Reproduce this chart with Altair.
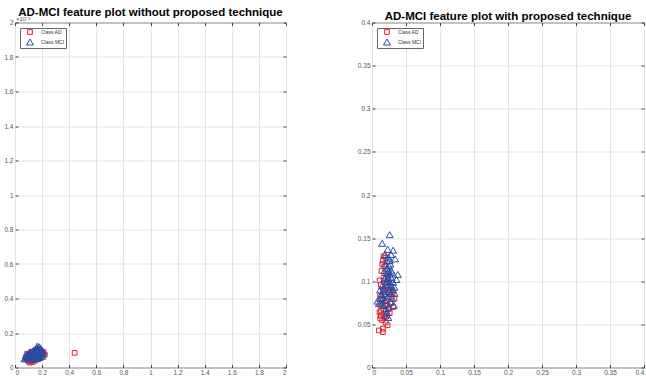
import altair as alt
import pandas as pd

classes = ["Class AD", "Class MCI"]
colors = ["#e8202a", "#2a4da6"]
shapes = ["square", "triangle-up"]

# Left panel (values x 1e-3)
left_ad_x = [0.44, 0.22, 0.11, 0.10, 0.13, 0.15, 0.09, 0.12, 0.17, 0.19, 0.21, 0.14, 0.10, 0.13, 0.16,
             0.18, 0.12, 0.15, 0.20, 0.11, 0.08, 0.17, 0.14, 0.19, 0.16, 0.12, 0.18, 0.09, 0.13, 0.21]
left_ad_y = [0.085, 0.075, 0.028, 0.035, 0.032, 0.040, 0.045, 0.050, 0.048, 0.060, 0.070, 0.062, 0.070, 0.078, 0.085,
             0.090, 0.092, 0.098, 0.080, 0.055, 0.060, 0.072, 0.045, 0.095, 0.055, 0.038, 0.068, 0.080, 0.088, 0.090]
left_mci_x = [0.07, 0.08, 0.09, 0.10, 0.11, 0.12, 0.13, 0.14, 0.15, 0.16, 0.17, 0.18, 0.17, 0.18, 0.16,
              0.15, 0.14, 0.13, 0.12, 0.11, 0.10, 0.09, 0.08, 0.19, 0.20, 0.21, 0.20, 0.19, 0.18, 0.17,
              0.16, 0.15, 0.14, 0.13, 0.12, 0.11, 0.10, 0.12, 0.14, 0.16, 0.18, 0.20, 0.19, 0.17, 0.15,
              0.13, 0.11, 0.16, 0.14, 0.18, 0.165, 0.175, 0.155, 0.145, 0.135, 0.125, 0.115, 0.105,
              0.095, 0.085, 0.185, 0.195, 0.150, 0.160, 0.170]
left_mci_y = [0.050, 0.055, 0.060, 0.065, 0.070, 0.075, 0.080, 0.085, 0.090, 0.095, 0.100, 0.105, 0.115, 0.120, 0.110,
              0.105, 0.100, 0.095, 0.090, 0.085, 0.080, 0.075, 0.070, 0.110, 0.100, 0.090, 0.080, 0.075, 0.070, 0.065,
              0.060, 0.070, 0.075, 0.065, 0.060, 0.055, 0.052, 0.048, 0.050, 0.052, 0.058, 0.065, 0.088, 0.082, 0.078,
              0.072, 0.068, 0.100, 0.092, 0.095, 0.125, 0.112, 0.108, 0.096, 0.088, 0.082, 0.078, 0.072,
              0.066, 0.062, 0.098, 0.085, 0.062, 0.075, 0.090]

# Right panel
right_ad_x = [0.010, 0.016, 0.016, 0.023, 0.012, 0.015, 0.018, 0.022, 0.013, 0.020, 0.026, 0.011, 0.017, 0.024, 0.031,
              0.014, 0.019, 0.027, 0.033, 0.015, 0.021, 0.029, 0.012, 0.018, 0.025, 0.016, 0.022, 0.028, 0.013, 0.019,
              0.011, 0.024, 0.017, 0.021, 0.014, 0.018, 0.015, 0.016, 0.017, 0.020, 0.026, 0.030, 0.020, 0.013, 0.023]
right_ad_y = [0.043, 0.041, 0.045, 0.049, 0.057, 0.055, 0.058, 0.060, 0.066, 0.062, 0.063, 0.064, 0.067, 0.068, 0.070,
              0.071, 0.073, 0.074, 0.080, 0.078, 0.077, 0.082, 0.083, 0.085, 0.087, 0.090, 0.092, 0.094, 0.096, 0.098,
              0.101, 0.100, 0.104, 0.108, 0.112, 0.117, 0.120, 0.124, 0.129, 0.127, 0.090, 0.085, 0.052, 0.060, 0.072]
right_mci_x = [0.026, 0.015, 0.023, 0.031, 0.028, 0.019, 0.034, 0.026, 0.038, 0.036, 0.008, 0.010, 0.012, 0.014, 0.016,
               0.018, 0.020, 0.022, 0.024, 0.026, 0.028, 0.022, 0.025, 0.020, 0.023, 0.027, 0.029, 0.031, 0.033, 0.030,
               0.028, 0.032, 0.025, 0.021, 0.017, 0.013, 0.019, 0.023, 0.027, 0.015, 0.018, 0.021, 0.024, 0.026, 0.021,
               0.019, 0.016, 0.029, 0.031, 0.020, 0.024, 0.022, 0.025, 0.018, 0.027, 0.030, 0.022, 0.024, 0.012, 0.033]
right_mci_y = [0.154, 0.144, 0.137, 0.136, 0.131, 0.131, 0.126, 0.124, 0.108, 0.102, 0.077, 0.074, 0.080, 0.085, 0.088,
               0.092, 0.096, 0.100, 0.104, 0.108, 0.112, 0.115, 0.118, 0.120, 0.110, 0.098, 0.094, 0.090, 0.086, 0.080,
               0.076, 0.072, 0.070, 0.068, 0.072, 0.075, 0.078, 0.082, 0.086, 0.095, 0.103, 0.106, 0.096, 0.090, 0.088,
               0.084, 0.081, 0.104, 0.099, 0.060, 0.058, 0.064, 0.112, 0.112, 0.120, 0.110, 0.124, 0.128, 0.090, 0.093]

left_ticks = [0, 0.2, 0.4, 0.6, 0.8, 1, 1.2, 1.4, 1.6, 1.8, 2]
right_ticks = [0, 0.05, 0.1, 0.15, 0.2, 0.25, 0.3, 0.35, 0.4]

FONT = "Liberation Sans"
AX = "#444444"


def make_df(ax, ay, mx, my):
    return pd.DataFrame({
        "x": ax + mx,
        "y": ay + my,
        "cls": [classes[0]] * len(ax) + [classes[1]] * len(mx),
        "ord": list(range(len(ax) + len(mx))),
    })


def panel(df, dom, ticks, title, w, h, expo=None):
    common = dict(values=ticks, format="~g", title=None, labelFont=FONT, labelFontSize=6.5,
                  labelColor="#555555", tickColor=AX, tickSize=3, offset=-3, domain=False,
                  labelPadding=2, gridColor="#e3e3e3", gridWidth=1, minExtent=0)
    xs = alt.Scale(domain=dom, nice=False, zero=False)
    ys = alt.Scale(domain=dom, nice=False, zero=False)
    pts = alt.Chart(df).mark_point(filled=False, strokeWidth=1, opacity=1).encode(
        x=alt.X("x:Q", scale=xs, axis=alt.Axis(orient="bottom", grid=True, **common)),
        y=alt.Y("y:Q", scale=ys, axis=alt.Axis(orient="left", grid=True, **common)),
        color=alt.Color("cls:N", scale=alt.Scale(domain=classes, range=colors),
                        legend=alt.Legend(title=None, orient="none", legendX=5, legendY=5.5,
                                          strokeColor="#666666", fillColor="white", padding=1,
                                          labelFont=FONT, labelFontSize=5, labelColor="#333333",
                                          symbolStrokeWidth=1, rowPadding=0,
                                          symbolOffset=5, labelOffset=7, labelLimit=60)),
        shape=alt.Shape("cls:N", scale=alt.Scale(domain=classes, range=shapes), legend=None),
        size=alt.Size("cls:N", scale=alt.Scale(domain=classes, range=[22, 48]), legend=None),
        order="ord:Q",
    )
    mirror_common = dict(values=ticks, title=None, labels=False, tickColor=AX, tickSize=3,
                         offset=-3, domain=False, grid=False, minExtent=0, maxExtent=0)
    mirror = alt.Chart(df).mark_point(opacity=0).encode(
        x=alt.X("x:Q", scale=xs, axis=alt.Axis(orient="top", **mirror_common)),
        y=alt.Y("y:Q", scale=ys, axis=alt.Axis(orient="right", **mirror_common)),
    )
    layers = [pts, mirror]
    if expo:
        t = alt.Chart(pd.DataFrame({"t": [expo]})).mark_text(
            font=FONT, fontSize=6, align="left", baseline="bottom", color="#555555"
        ).encode(x=alt.value(1), y=alt.value(-1), text="t:N")
        layers.append(t)
    return alt.layer(*layers).resolve_axis(x="independent", y="independent").properties(
        width=w, height=h,
        title=alt.TitleParams(title, font=FONT, fontSize=11.5, fontWeight="bold", color="black",
                              offset=-3, anchor="middle", frame="group"),
    )


left = panel(make_df(left_ad_x, left_ad_y, left_mci_x, left_mci_y), [0, 2], left_ticks,
             "AD-MCI feature plot without proposed technique", 271, 345, expo="×10⁻³")
right = panel(make_df(right_ad_x, right_ad_y, right_mci_x, right_mci_y), [0, 0.4], right_ticks,
              "AD-MCI feature plot with proposed technique", 272, 345)

chart = alt.hconcat(left, right, spacing=86, bounds="flush").resolve_scale(
    color="independent", shape="independent", size="independent"
).properties(
    padding={"left": 3, "top": 6.5, "right": 0, "bottom": 0},
    background="white",
).configure_view(stroke=AX, strokeWidth=1)

chart.save("out.html", embed_options={"renderer": "svg", "actions": False})
